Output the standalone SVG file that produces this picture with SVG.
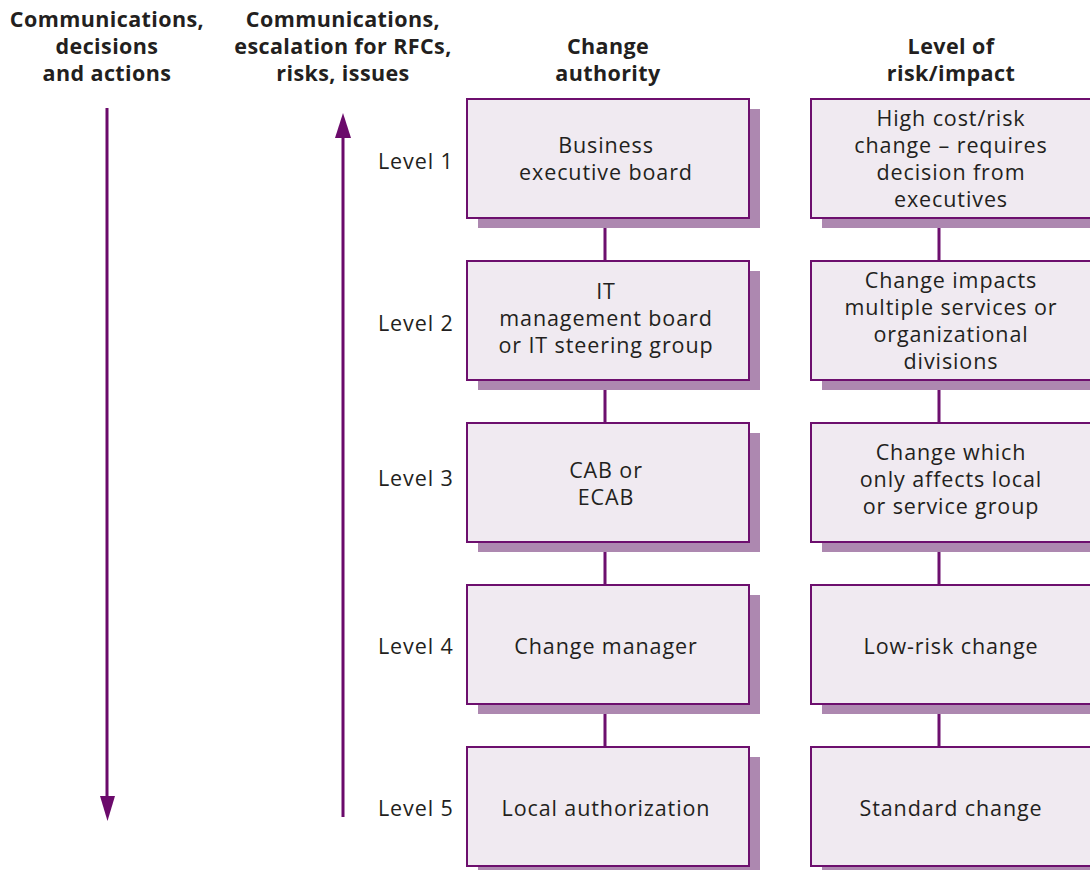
<svg xmlns="http://www.w3.org/2000/svg" width="1090" height="870" viewBox="0 0 1090 870">
<defs>
<style>
.h{font-family:"Open Sans","Noto Sans",sans-serif;font-weight:bold;font-size:21.5px;letter-spacing:0.4px;fill:#231f20;text-anchor:middle}
.t{font-family:"Open Sans","Noto Sans",sans-serif;font-size:21.5px;letter-spacing:0.9px;fill:#231f20;text-anchor:middle}
.lv{font-family:"Open Sans","Noto Sans",sans-serif;font-size:21.5px;letter-spacing:0.9px;fill:#231f20}
.box{fill:#f0eaf1;stroke:#6d0f6e;stroke-width:2}
.sh{fill:#ad88b0}
.ln{stroke:#6d0f6e;stroke-width:3;fill:none}
.ar{stroke:#6b0a6b;stroke-width:3;fill:none}
</style>
</defs>
<rect width="1090" height="870" fill="#fff"/>
<g id="headers">
<text class="h" x="107" y="27"><tspan x="107">Communications,</tspan><tspan x="107" dy="27">decisions</tspan><tspan x="107" dy="27">and actions</tspan></text>
<text class="h" x="343" y="27"><tspan x="343">Communications,</tspan><tspan x="343" dy="27">escalation for RFCs,</tspan><tspan x="343" dy="27">risks, issues</tspan></text>
<text class="h" x="608" y="54"><tspan x="608">Change</tspan><tspan x="608" dy="27">authority</tspan></text>
<text class="h" x="951" y="54"><tspan x="951">Level of</tspan><tspan x="951" dy="27">risk/impact</tspan></text>
</g>
<g id="connectors">
<line class="ln" x1="605" y1="218" x2="605" y2="747"/>
<line class="ln" x1="939" y1="218" x2="939" y2="747"/>
<line class="ar" x1="107" y1="108" x2="107" y2="798"/>
<polygon points="100,796 115,796 107.5,821" fill="#6b0a6b"/>
<line class="ar" x1="343" y1="136" x2="343" y2="817"/>
<polygon points="335,138 351,138 343,113" fill="#6b0a6b"/>
</g>
<g id="levels">
<text class="lv" x="378" y="169">Level 1</text>
<text class="lv" x="378" y="331">Level 2</text>
<text class="lv" x="378" y="486">Level 3</text>
<text class="lv" x="378" y="654">Level 4</text>
<text class="lv" x="378" y="816">Level 5</text>
</g>
<g id="auth1"><rect class="sh" x="478" y="109" width="282" height="119"/><rect class="box" x="467" y="99" width="282" height="119"/>
<text class="t" x="606" y="153"><tspan x="606">Business</tspan><tspan x="606" dy="27">executive board</tspan></text></g>
<g id="auth2"><rect class="sh" x="478" y="271" width="282" height="119"/><rect class="box" x="467" y="261" width="282" height="119"/>
<text class="t" x="606" y="299"><tspan x="606">IT</tspan><tspan x="606" dy="27">management board</tspan><tspan x="606" dy="27">or IT steering group</tspan></text></g>
<g id="auth3"><rect class="sh" x="478" y="433" width="282" height="119"/><rect class="box" x="467" y="423" width="282" height="119"/>
<text class="t" x="606" y="478"><tspan x="606">CAB or</tspan><tspan x="606" dy="27">ECAB</tspan></text></g>
<g id="auth4"><rect class="sh" x="478" y="595" width="282" height="119"/><rect class="box" x="467" y="585" width="282" height="119"/>
<text class="t" x="606" y="654">Change manager</text></g>
<g id="auth5"><rect class="sh" x="478" y="757" width="282" height="119"/><rect class="box" x="467" y="747" width="282" height="119"/>
<text class="t" x="606" y="816">Local authorization</text></g>
<g id="risk1"><rect class="sh" x="822" y="109" width="282" height="119"/><rect class="box" x="811" y="99" width="282" height="119"/>
<text class="t" x="951" y="126"><tspan x="951">High cost/risk</tspan><tspan x="951" dy="27">change – requires</tspan><tspan x="951" dy="27">decision from</tspan><tspan x="951" dy="27">executives</tspan></text></g>
<g id="risk2"><rect class="sh" x="822" y="271" width="282" height="119"/><rect class="box" x="811" y="261" width="282" height="119"/>
<text class="t" x="951" y="288"><tspan x="951">Change impacts</tspan><tspan x="951" dy="27">multiple services or</tspan><tspan x="951" dy="27">organizational</tspan><tspan x="951" dy="27">divisions</tspan></text></g>
<g id="risk3"><rect class="sh" x="822" y="433" width="282" height="119"/><rect class="box" x="811" y="423" width="282" height="119"/>
<text class="t" x="951" y="460"><tspan x="951">Change which</tspan><tspan x="951" dy="27">only affects local</tspan><tspan x="951" dy="27">or service group</tspan></text></g>
<g id="risk4"><rect class="sh" x="822" y="595" width="282" height="119"/><rect class="box" x="811" y="585" width="282" height="119"/>
<text class="t" x="951" y="654">Low-risk change</text></g>
<g id="risk5"><rect class="sh" x="822" y="757" width="282" height="119"/><rect class="box" x="811" y="747" width="282" height="119"/>
<text class="t" x="951" y="816">Standard change</text></g>
</svg>
